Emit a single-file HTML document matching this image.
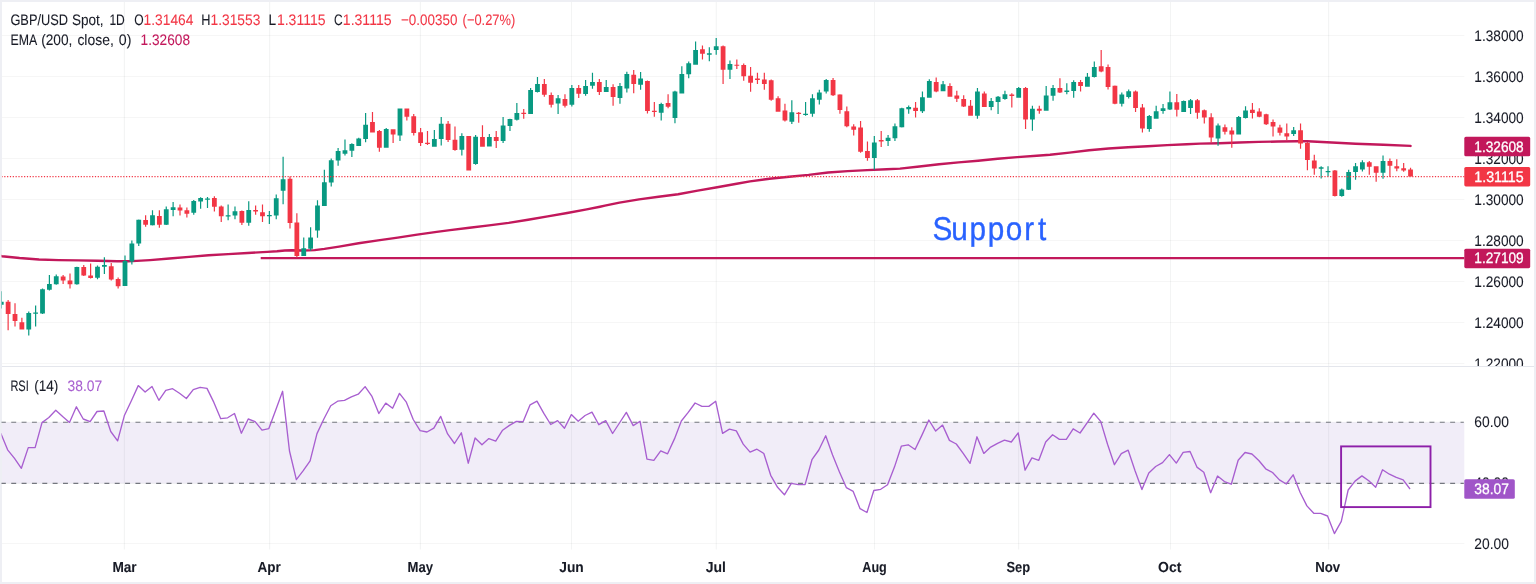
<!DOCTYPE html>
<html lang="en"><head><meta charset="utf-8"><title>GBP/USD Spot, 1D</title>
<style>html,body{margin:0;padding:0;background:#fff;overflow:hidden}svg{display:block}text{text-rendering:geometricPrecision;font-family:"Liberation Sans",sans-serif;font-size:15.2px;fill:#181b26;stroke:#181b26;stroke-width:0.08px}.r{fill:#f23645;stroke:#f23645}.e{fill:#c2185b;stroke:#c2185b}.p{fill:#a85fd0;stroke:#a85fd0}.w{fill:#fff;stroke:#fff;stroke-width:0.3px}.b{font-weight:bold;font-size:14.6px}</style></head><body>
<svg width="1536" height="584" viewBox="0 0 1536 584">
<rect width="1536" height="584" fill="#eeeff4"/>
<rect x="2" y="2" width="1532" height="580" fill="#fff"/>
<defs><clipPath id="cp"><rect x="1.5" y="2" width="1462.3" height="364"/></clipPath><clipPath id="cr"><rect x="1.5" y="367" width="1462.3" height="183"/></clipPath><clipPath id="ca"><rect x="1464.3" y="2" width="80" height="364"/></clipPath></defs>
<path d="M2 35.5 H1464.3 M2 76.5 H1464.3 M2 117.5 H1464.3 M2 158.5 H1464.3 M2 199.5 H1464.3 M2 240.5 H1464.3 M2 281.5 H1464.3 M2 322.5 H1464.3 M2 363.5 H1464.3 M2 422.3 H1464.3 M2 483.4 H1464.3 M2 543.5 H1464.3" stroke="#2a2e39" stroke-opacity="0.042" stroke-width="1.1" fill="none"/>
<path d="M124.4 2 V549.5 M269.6 2 V549.5 M420.4 2 V549.5 M571.5 2 V549.5 M716.3 2 V549.5 M874.5 2 V549.5 M1018.6 2 V549.5 M1170.5 2 V549.5 M1328.6 2 V549.5" stroke="#2a2e39" stroke-opacity="0.055" stroke-width="1.1" fill="none"/>
<rect x="2" y="422.3" width="1462.3" height="61.1" fill="#7e57c2" fill-opacity="0.11"/>
<path d="M0.88 422.3 H1465.3 M0.88 483.4 H1465.3" stroke="#74777f" stroke-width="1.1" stroke-dasharray="4.95 5.402" fill="none" clip-path="url(#cr)"/>
<rect x="2" y="366" width="1532" height="1" fill="#e4e6ec"/>
<path d="M260.7 258.1 H1464.3" stroke="#c2185b" stroke-width="2.1" fill="none"/>
<g clip-path="url(#cp)"><polyline points="0,255.9 2,256.2 19.5,258 39,259.5 58.6,260.1 78.1,260.4 97.7,260.8 117.2,261.3 128,261.3 136.7,260.9 150,260.1 169.5,258.5 189.1,256.9 208.6,255.3 228.1,254.1 247.7,253 267.2,251.9 277,251.3 284.8,250.5 291.6,250.3 303,250.5 314.6,250.1 324.4,248.9 339.1,246.6 358.6,243.3 378.1,240.4 397.7,237.6 417.2,234.6 436.7,231.9 450,230.1 469.5,227.7 489.1,225.4 508.6,222.9 528.1,219.8 547.7,216.4 567.2,213 586.7,209.4 600,206.7 604.9,205.6 619.5,202.6 639.1,199.4 658.6,196.8 678.1,194.3 697.7,190.6 717.2,187.2 736.7,183.8 750,181.4 769.5,178.7 789.1,176.7 808.6,174.9 828.1,172.5 847.7,171.1 867.2,170.1 886.7,169.3 900,168.65 919.5,166.55 939.1,164.2 958.6,162.4 978.1,160.7 997.7,158.7 1017.2,157.1 1036.7,155.8 1050,154.8 1069.5,152.6 1089.1,150.3 1108.6,148.5 1128.1,147.2 1147.7,146.2 1167.2,145.1 1186.7,144.3 1200,143.65 1219.5,143.2 1239.1,142.5 1258.6,141.9 1278.1,141.5 1297.7,141.2 1307.4,141.2 1317.2,141.8 1336.7,142.8 1355.6,143.7 1383.5,144.8 1410.5,145.9" fill="none" stroke="#c2185b" stroke-width="2.45" stroke-linejoin="round" stroke-linecap="round"/>
<path d="M0.66 291.3h1.2v17.3h-1.2zM-1.14 301.7h4.8v3h-4.8zM28.16 311.4h1.2v24.2h-1.2zM26.36 312.9h4.8v16.5h-4.8zM35.03 305.5h1.2v21.1h-1.2zM33.23 312.5h4.8v1.2h-4.8zM41.91 288.6h1.2v25.4h-1.2zM40.11 289.3h4.8v24.2h-4.8zM48.78 275.1h1.2v15.3h-1.2zM46.98 283.9h4.8v5.9h-4.8zM55.65 274.4h1.2v10.3h-1.2zM53.85 276.2h4.8v8h-4.8zM76.28 266.7h1.2v18h-1.2zM74.48 267h4.8v17.2h-4.8zM96.9 265.4h1.2v13.9h-1.2zM95.1 266.7h4.8v11.1h-4.8zM103.78 257.2h1.2v16.7h-1.2zM101.98 265.1h4.8v1.6h-4.8zM124.4 255.4h1.2v30.5h-1.2zM122.6 261.1h4.8v24.8h-4.8zM131.27 240.4h1.2v24.2h-1.2zM129.47 243.5h4.8v18.1h-4.8zM138.15 219.5h1.2v26.5h-1.2zM136.35 219.7h4.8v23.8h-4.8zM151.9 210.3h1.2v15.2h-1.2zM150.1 215.3h4.8v9.9h-4.8zM165.65 206.4h1.2v18.5h-1.2zM163.85 209.2h4.8v15.5h-4.8zM172.52 201.9h1.2v14.4h-1.2zM170.72 207.2h4.8v2.7h-4.8zM193.15 200.1h1.2v14.7h-1.2zM191.34 200.9h4.8v11.8h-4.8zM200.02 197.3h1.2v11.5h-1.2zM198.22 198.1h4.8v3.3h-4.8zM206.89 197h1.2v11h-1.2zM205.09 198.5h4.8v1.2h-4.8zM227.52 204.6h1.2v15.7h-1.2zM225.72 215.2h4.8v1.2h-4.8zM234.39 206.6h1.2v12.7h-1.2zM232.59 211.3h4.8v4.3h-4.8zM248.14 201.2h1.2v24.5h-1.2zM246.34 210.1h4.8v12.7h-4.8zM268.76 211.1h1.2v12.8h-1.2zM266.96 215.1h4.8v1.2h-4.8zM275.64 194.4h1.2v24.9h-1.2zM273.84 198.2h4.8v17.4h-4.8zM282.51 156.7h1.2v47.6h-1.2zM280.71 179.2h4.8v11.5h-4.8zM303.14 237.6h1.2v18.3h-1.2zM301.34 248.2h4.8v7.7h-4.8zM310.01 227.3h1.2v23.4h-1.2zM308.21 237.6h4.8v11.2h-4.8zM316.89 200.2h1.2v37.6h-1.2zM315.09 205.6h4.8v25h-4.8zM323.76 169.8h1.2v36.2h-1.2zM321.96 182.2h4.8v23.8h-4.8zM330.63 158.4h1.2v28h-1.2zM328.84 160.2h4.8v22.4h-4.8zM337.51 147.9h1.2v17.9h-1.2zM335.71 151.1h4.8v9.5h-4.8zM344.38 139.5h1.2v16h-1.2zM342.58 150.3h4.8v3.4h-4.8zM351.26 143.2h1.2v13.9h-1.2zM349.46 144.1h4.8v6.6h-4.8zM358.13 137.7h1.2v8.2h-1.2zM356.33 138.6h4.8v7.3h-4.8zM365.01 113h1.2v29.2h-1.2zM363.21 124.7h4.8v14.3h-4.8zM385.63 128.1h1.2v19.6h-1.2zM383.83 129h4.8v18.7h-4.8zM399.38 108.5h1.2v32.6h-1.2zM397.58 108.5h4.8v27.1h-4.8zM433.75 130.1h1.2v16.7h-1.2zM431.95 139h4.8v7.8h-4.8zM440.63 117.1h1.2v28.5h-1.2zM438.83 123.7h4.8v15.3h-4.8zM461.25 133.2h1.2v22.3h-1.2zM459.45 136h4.8v13.7h-4.8zM475 135.1h1.2v29.7h-1.2zM473.2 136.8h4.8v27.1h-4.8zM488.75 134h1.2v12.6h-1.2zM486.95 136.9h4.8v9.7h-4.8zM502.5 117h1.2v25.9h-1.2zM500.7 125.4h4.8v15.6h-4.8zM509.37 118.8h1.2v12.1h-1.2zM507.57 119h4.8v7h-4.8zM516.25 102.9h1.2v17.5h-1.2zM514.45 112.9h4.8v6.8h-4.8zM530 87.9h1.2v26h-1.2zM528.2 89.9h4.8v24h-4.8zM536.87 77.1h1.2v15.3h-1.2zM535.07 83.9h4.8v8.2h-4.8zM557.49 95.1h1.2v18.8h-1.2zM555.69 98.2h4.8v5.4h-4.8zM571.24 85.1h1.2v21.4h-1.2zM569.44 88h4.8v16.7h-4.8zM584.99 80.1h1.2v15.7h-1.2zM583.19 86h4.8v8h-4.8zM591.87 72.8h1.2v15.9h-1.2zM590.07 82.1h4.8v3.7h-4.8zM605.62 80.1h1.2v12h-1.2zM603.82 86.9h4.8v5.2h-4.8zM619.36 83.1h1.2v20.7h-1.2zM617.56 86h4.8v11.9h-4.8zM626.24 71.8h1.2v20.6h-1.2zM624.44 73.9h4.8v14.7h-4.8zM639.99 72h1.2v17.7h-1.2zM638.19 78.5h4.8v6.3h-4.8zM660.61 102.8h1.2v17.7h-1.2zM658.81 103.9h4.8v8.9h-4.8zM674.36 90.8h1.2v32.5h-1.2zM672.56 91.6h4.8v26.3h-4.8zM681.23 66.3h1.2v27.3h-1.2zM679.43 74h4.8v19.6h-4.8zM688.11 61.5h1.2v16.7h-1.2zM686.31 63.2h4.8v11.1h-4.8zM694.98 41.6h1.2v23.1h-1.2zM693.18 50h4.8v14.7h-4.8zM708.73 47.3h1.2v13.9h-1.2zM706.93 53.2h4.8v1.5h-4.8zM715.61 38.1h1.2v16.6h-1.2zM713.81 46.3h4.8v3.7h-4.8zM729.36 60.4h1.2v18.5h-1.2zM727.56 64h4.8v5.7h-4.8zM791.23 100.2h1.2v23.7h-1.2zM789.43 112.2h4.8v9.6h-4.8zM804.98 102h1.2v13.8h-1.2zM803.18 113.7h4.8v1.2h-4.8zM811.85 94.3h1.2v22.4h-1.2zM810.05 98.2h4.8v15.5h-4.8zM818.72 89.8h1.2v14.7h-1.2zM816.92 92.5h4.8v7.2h-4.8zM825.6 79h1.2v14.4h-1.2zM823.8 79.9h4.8v11.7h-4.8zM873.72 136h1.2v33.8h-1.2zM871.92 142.4h4.8v15.7h-4.8zM887.47 135.1h1.2v10.8h-1.2zM885.67 137.8h4.8v3.2h-4.8zM894.34 123.6h1.2v17.4h-1.2zM892.54 126.3h4.8v12h-4.8zM901.22 107.8h1.2v19.7h-1.2zM899.42 108.3h4.8v18.9h-4.8zM908.09 105.6h1.2v8.1h-1.2zM906.29 106.9h4.8v2.3h-4.8zM921.84 91.6h1.2v21.5h-1.2zM920.04 97.3h4.8v14h-4.8zM928.72 79.2h1.2v18.6h-1.2zM926.92 81.1h4.8v16.7h-4.8zM942.47 81.1h1.2v10.2h-1.2zM940.67 84.3h4.8v7h-4.8zM976.84 87.9h1.2v30.8h-1.2zM975.04 91.6h4.8v24.1h-4.8zM990.59 98.1h1.2v12.1h-1.2zM988.79 101h4.8v6.1h-4.8zM997.46 96.1h1.2v17.9h-1.2zM995.66 96.8h4.8v5.1h-4.8zM1004.34 90.7h1.2v9h-1.2zM1002.54 94.3h4.8v4.7h-4.8zM1018.09 87.1h1.2v10.6h-1.2zM1016.29 87.9h4.8v9.8h-4.8zM1031.83 105.8h1.2v24.9h-1.2zM1030.03 108.7h4.8v10.9h-4.8zM1045.58 85.9h1.2v24.9h-1.2zM1043.78 95.4h4.8v15.4h-4.8zM1052.46 84.9h1.2v15.8h-1.2zM1050.66 88.1h4.8v7.7h-4.8zM1066.21 83.2h1.2v11.1h-1.2zM1064.41 90.4h4.8v1.6h-4.8zM1073.08 80.2h1.2v17.5h-1.2zM1071.28 82.1h4.8v9h-4.8zM1086.83 73h1.2v13.7h-1.2zM1085.03 76.7h4.8v10h-4.8zM1093.7 61.5h1.2v15.9h-1.2zM1091.9 67.1h4.8v9.9h-4.8zM1121.2 92.6h1.2v13.9h-1.2zM1119.4 94.4h4.8v9.4h-4.8zM1128.08 89.6h1.2v9h-1.2zM1126.28 91.2h4.8v5.9h-4.8zM1148.7 115.1h1.2v16.6h-1.2zM1146.9 116h4.8v13h-4.8zM1155.58 105.8h1.2v12.9h-1.2zM1153.77 111.2h4.8v7.5h-4.8zM1162.45 104h1.2v9.7h-1.2zM1160.65 108.3h4.8v2.7h-4.8zM1169.32 91.4h1.2v18.7h-1.2zM1167.52 102.2h4.8v7.2h-4.8zM1183.07 100.4h1.2v11.5h-1.2zM1181.27 101.1h4.8v10.8h-4.8zM1189.95 98.9h1.2v15h-1.2zM1188.15 100.2h4.8v7.7h-4.8zM1217.45 123.6h1.2v22.1h-1.2zM1215.65 125.5h4.8v13h-4.8zM1238.07 116.1h1.2v18.5h-1.2zM1236.27 117h4.8v17.6h-4.8zM1244.94 106.3h1.2v12.2h-1.2zM1243.14 110.4h4.8v7.6h-4.8zM1293.07 127h1.2v8.9h-1.2zM1291.26 130.2h4.8v3.8h-4.8zM1320.56 166.2h1.2v12.4h-1.2zM1318.76 167.3h4.8v1.4h-4.8zM1327.44 166.2h1.2v10.3h-1.2zM1325.64 170.9h4.8v1.4h-4.8zM1341.19 188.4h1.2v8.4h-1.2zM1339.39 189.5h4.8v6.4h-4.8zM1348.06 169.8h1.2v20.3h-1.2zM1346.26 172h4.8v17.7h-4.8zM1354.94 163.1h1.2v16.7h-1.2zM1353.14 166.2h4.8v5.8h-4.8zM1361.81 160.3h1.2v11.2h-1.2zM1360.01 162.3h4.8v7.2h-4.8zM1382.43 155.6h1.2v23.1h-1.2zM1380.63 161.1h4.8v11.7h-4.8z" fill="#089981"/><path d="M7.53 300.1h1.2v30.1h-1.2zM5.73 301.7h4.8v12.3h-4.8zM14.41 303.2h1.2v23.4h-1.2zM12.61 314h4.8v6.9h-4.8zM21.28 317.8h1.2v11.6h-1.2zM19.48 322.2h4.8v7.2h-4.8zM62.53 275h1.2v8.9h-1.2zM60.73 276.5h4.8v3.9h-4.8zM69.4 273.4h1.2v15.2h-1.2zM67.6 280.4h4.8v3.8h-4.8zM83.15 265.1h1.2v10.8h-1.2zM81.35 267h4.8v8.4h-4.8zM90.03 263.4h1.2v15.1h-1.2zM88.23 275.4h4.8v2.7h-4.8zM110.65 263.1h1.2v17.3h-1.2zM108.85 266.2h4.8v13.4h-4.8zM117.53 277.4h1.2v11.2h-1.2zM115.73 279h4.8v7.2h-4.8zM145.02 215.3h1.2v11.5h-1.2zM143.22 220h4.8v4.7h-4.8zM158.77 210.3h1.2v17.5h-1.2zM156.97 216.1h4.8v8.6h-4.8zM179.4 204.6h1.2v10.9h-1.2zM177.6 207.5h4.8v3.1h-4.8zM186.27 207.5h1.2v9.9h-1.2zM184.47 210.3h4.8v3.4h-4.8zM213.77 196.2h1.2v15.4h-1.2zM211.97 198.1h4.8v8.6h-4.8zM220.64 205.4h1.2v16.7h-1.2zM218.84 206.4h4.8v9.9h-4.8zM241.27 210.4h1.2v14.5h-1.2zM239.47 211.1h4.8v11.7h-4.8zM255.02 205.4h1.2v9.4h-1.2zM253.22 210.1h4.8v1.5h-4.8zM261.89 204.5h1.2v17.6h-1.2zM260.09 212.2h4.8v4.1h-4.8zM289.39 176.5h1.2v52.1h-1.2zM287.59 178.8h4.8v44.1h-4.8zM296.26 213.3h1.2v44.1h-1.2zM294.46 222.5h4.8v33.4h-4.8zM371.88 112.1h1.2v20.5h-1.2zM370.08 121.9h4.8v10.7h-4.8zM378.76 130.1h1.2v21.7h-1.2zM376.96 131.1h4.8v16.6h-4.8zM392.51 129.2h1.2v13.7h-1.2zM390.71 129.2h4.8v5.3h-4.8zM406.25 108.5h1.2v12h-1.2zM404.45 108.5h4.8v8.2h-4.8zM413.13 114h1.2v21.6h-1.2zM411.33 116.2h4.8v16.7h-4.8zM420 128.1h1.2v17.8h-1.2zM418.2 132.2h4.8v10.7h-4.8zM426.88 131.1h1.2v13.8h-1.2zM425.08 142.7h4.8v1.4h-4.8zM447.5 121h1.2v21h-1.2zM445.7 123.7h4.8v16.4h-4.8zM454.38 126.6h1.2v24.1h-1.2zM452.58 139.7h4.8v10.3h-4.8zM468.12 136h1.2v34.5h-1.2zM466.33 136h4.8v34.4h-4.8zM481.87 125.3h1.2v21.4h-1.2zM480.07 137h4.8v9.7h-4.8zM495.62 131.1h1.2v16.8h-1.2zM493.82 136.9h4.8v4.2h-4.8zM523.12 109.1h1.2v9.6h-1.2zM521.32 112.7h4.8v1.3h-4.8zM543.74 79.1h1.2v17.7h-1.2zM541.94 83.9h4.8v10.8h-4.8zM550.62 92.4h1.2v15.1h-1.2zM548.82 95.1h4.8v9.6h-4.8zM564.37 94.2h1.2v13.3h-1.2zM562.57 99h4.8v6.7h-4.8zM578.12 85.1h1.2v12.8h-1.2zM576.32 87.9h4.8v5.9h-4.8zM598.74 79.1h1.2v15.8h-1.2zM596.94 82.1h4.8v10h-4.8zM612.49 84.2h1.2v21.5h-1.2zM610.69 86.9h4.8v10h-4.8zM633.11 70.1h1.2v23.2h-1.2zM631.31 74.8h4.8v9.2h-4.8zM646.86 80.5h1.2v33.1h-1.2zM645.06 80.9h4.8v30.1h-4.8zM653.74 102h1.2v14.7h-1.2zM651.94 110.8h4.8v1.2h-4.8zM667.49 94.3h1.2v13.9h-1.2zM665.69 103.1h4.8v3.6h-4.8zM701.86 45.5h1.2v13.9h-1.2zM700.06 49.3h4.8v4.5h-4.8zM722.48 45.5h1.2v38.5h-1.2zM720.68 46.3h4.8v23.4h-4.8zM736.23 59.4h1.2v9.5h-1.2zM734.43 64.65h4.8v1.2h-4.8zM743.11 63.5h1.2v17.3h-1.2zM741.31 65.1h4.8v11.1h-4.8zM749.98 67.1h1.2v24.6h-1.2zM748.18 75.8h4.8v7h-4.8zM756.85 72.8h1.2v11.2h-1.2zM755.05 78.6h4.8v1.4h-4.8zM763.73 72.8h1.2v16.9h-1.2zM761.93 79.4h4.8v4.6h-4.8zM770.6 79.4h1.2v21.4h-1.2zM768.8 80.2h4.8v19.5h-4.8zM777.48 96.3h1.2v15.5h-1.2zM775.68 98.2h4.8v13.6h-4.8zM784.35 103.7h1.2v17.8h-1.2zM782.55 110.5h4.8v10h-4.8zM798.1 111.9h1.2v10.8h-1.2zM796.3 112.8h4.8v1.2h-4.8zM832.47 78.1h1.2v18h-1.2zM830.67 79.9h4.8v15.3h-4.8zM839.35 94.3h1.2v19.4h-1.2zM837.55 94.6h4.8v15.3h-4.8zM846.22 106.5h1.2v20.7h-1.2zM844.42 111.3h4.8v15h-4.8zM853.1 124.3h1.2v11.3h-1.2zM851.3 126.6h4.8v3.1h-4.8zM859.97 120.9h1.2v31.8h-1.2zM858.17 127.5h4.8v24.3h-4.8zM866.85 141.4h1.2v19.4h-1.2zM865.05 150.9h4.8v7.2h-4.8zM880.6 131.1h1.2v15.8h-1.2zM878.8 140.1h4.8v1.3h-4.8zM914.97 102h1.2v15.6h-1.2zM913.17 107.8h4.8v3.2h-4.8zM935.59 77.4h1.2v14.9h-1.2zM933.79 82.1h4.8v9.5h-4.8zM949.34 83.2h1.2v13.5h-1.2zM947.54 85.9h4.8v10.8h-4.8zM956.21 90.7h1.2v11.2h-1.2zM954.41 95.4h4.8v3.4h-4.8zM963.09 95.2h1.2v11.9h-1.2zM961.29 99h4.8v7.5h-4.8zM969.96 100.1h1.2v15.6h-1.2zM968.16 105.8h4.8v9.9h-4.8zM983.71 91.6h1.2v15.5h-1.2zM981.91 93.5h4.8v13.6h-4.8zM1011.21 93.2h1.2v14.2h-1.2zM1009.41 94.5h4.8v1.6h-4.8zM1024.96 87.1h1.2v41.8h-1.2zM1023.16 87.9h4.8v31.7h-4.8zM1038.71 105.8h1.2v8h-1.2zM1036.91 108.7h4.8v2.1h-4.8zM1059.33 78.2h1.2v14.8h-1.2zM1057.53 88.1h4.8v4.3h-4.8zM1079.96 80.1h1.2v11.3h-1.2zM1078.16 82h4.8v3.9h-4.8zM1100.58 50h1.2v22.3h-1.2zM1098.78 66.2h4.8v5.4h-4.8zM1107.45 64.4h1.2v25h-1.2zM1105.65 67.1h4.8v19.8h-4.8zM1114.33 85.4h1.2v18.9h-1.2zM1112.53 85.8h4.8v18h-4.8zM1134.95 90.5h1.2v21.4h-1.2zM1133.15 91.4h4.8v16.5h-4.8zM1141.83 104h1.2v28.6h-1.2zM1140.03 107.6h4.8v21h-4.8zM1176.2 94.1h1.2v22.5h-1.2zM1174.4 102.2h4.8v7.5h-4.8zM1196.82 98.9h1.2v19.8h-1.2zM1195.02 100.2h4.8v12.6h-4.8zM1203.7 109.4h1.2v14.2h-1.2zM1201.9 110.3h4.8v7.2h-4.8zM1210.57 113.3h1.2v29.3h-1.2zM1208.77 117.3h4.8v20.3h-4.8zM1224.32 124.4h1.2v10.1h-1.2zM1222.52 127.3h4.8v4.5h-4.8zM1231.19 127.2h1.2v20.5h-1.2zM1229.39 130.4h4.8v4.1h-4.8zM1251.82 102.9h1.2v15.6h-1.2zM1250.02 109.7h4.8v3.2h-4.8zM1258.69 108.2h1.2v9h-1.2zM1256.89 111.6h4.8v5.1h-4.8zM1265.57 113.8h1.2v11.3h-1.2zM1263.77 114.2h4.8v10h-4.8zM1272.44 119.5h1.2v16.9h-1.2zM1270.64 121.9h4.8v4.7h-4.8zM1279.32 124.8h1.2v10.7h-1.2zM1277.52 127.6h4.8v5.1h-4.8zM1286.19 123.6h1.2v16.6h-1.2zM1284.39 133.2h4.8v3.2h-4.8zM1299.94 123.6h1.2v25.1h-1.2zM1298.14 130.2h4.8v13.3h-4.8zM1306.81 142.1h1.2v28.2h-1.2zM1305.01 142.9h4.8v17h-4.8zM1313.69 154.7h1.2v20.1h-1.2zM1311.89 160.4h4.8v8h-4.8zM1334.31 170h1.2v26.5h-1.2zM1332.51 170.6h4.8v25.3h-4.8zM1368.68 161.1h1.2v13.7h-1.2zM1366.88 162.3h4.8v4.4h-4.8zM1375.56 166.2h1.2v15.5h-1.2zM1373.76 166.2h4.8v6.6h-4.8zM1389.31 158.4h1.2v18.5h-1.2zM1387.51 161.1h4.8v4.6h-4.8zM1396.18 159.3h1.2v12h-1.2zM1394.38 166.3h4.8v2.2h-4.8zM1403.06 163.1h1.2v8.6h-1.2zM1401.26 168.2h4.8v2.4h-4.8zM1409.93 167.7h1.2v8.9h-1.2zM1408.13 169.6h4.8v7h-4.8z" fill="#f23645"/></g>
<path d="M2 176.6 H1464.3" stroke="#f23645" stroke-width="1.1" stroke-dasharray="1.2 1.633" stroke-dashoffset="0.6" fill="none"/>
<text transform="scale(0.9,1)" x="1036.01 1056.9 1077.15 1097.53 1117.43 1138.18 1153.45" y="239.8" style="font-size:33px;fill:#2962ff;stroke:#2962ff;stroke-width:0.35px">Support</text>
<g clip-path="url(#cr)"><polyline points="0.76,433.2 7.63,449.8 14.51,458.4 21.38,468.3 28.26,447.6 35.13,447.6 42.01,422.6 48.88,417.5 55.75,410.3 62.63,416.6 69.5,422.4 76.38,406.8 83.25,419 90.13,421.6 97,411.5 103.88,411 110.75,431.5 117.63,440.9 124.5,415.2 131.37,400.7 138.25,385.6 145.12,392.1 152,386.5 158.87,400.3 165.75,390.4 172.62,388.7 179.5,393.3 186.37,398.5 193.25,389.6 200.12,387.3 206.99,388.4 213.87,402.4 220.74,418.7 227.62,417.8 234.49,413.5 241.37,433.2 248.24,419 255.12,421.6 261.99,430.1 268.86,428.6 275.74,410.1 282.61,391.3 289.49,451 296.36,479.6 303.24,470.7 310.11,460.8 316.99,433.6 323.86,419 330.74,405.7 337.61,401.2 344.48,400.4 351.36,396.9 358.23,394.2 365.11,386.6 371.98,396.4 378.86,413.5 385.73,403.1 392.61,408.2 399.48,393.4 406.35,402.2 413.23,419.5 420.1,430.6 426.98,432 433.85,428.1 440.73,416.4 447.6,433.9 454.48,443.5 461.35,432.8 468.23,463.2 475.1,437.9 481.97,444.7 488.85,438.6 495.72,441.1 502.6,430.2 509.47,425.4 516.35,421.4 523.22,421.6 530.1,404.8 536.97,401.1 543.84,413.4 550.72,424.5 557.59,420.6 564.47,428.3 571.34,414.6 578.22,421.2 585.09,415.5 591.97,412.1 598.84,424.7 605.72,420.6 612.59,433.5 619.46,423 626.34,412.4 633.21,425.6 640.09,421.3 646.96,459.1 653.84,460.3 660.71,450.9 667.59,453.8 674.46,438.9 681.33,421 688.21,412.4 695.08,403 701.96,406.4 708.83,406.4 715.71,401.3 722.58,433.3 729.46,429.2 736.33,430.9 743.21,444.1 750.08,452.1 756.95,449.2 763.83,453.5 770.7,475.3 777.58,487.3 784.45,494.8 791.33,483.4 798.2,484.7 805.08,484.6 811.95,459.7 818.82,450 825.7,435.8 832.57,455.1 839.45,471.9 846.32,487.6 853.2,491.4 860.07,508.7 866.95,512.5 873.82,490.5 880.7,489.3 887.57,484.7 894.44,467.1 901.32,446.2 908.19,444.8 915.07,449.5 921.94,435.1 928.82,420 935.69,431.1 942.57,425.1 949.44,440.4 956.31,444 963.19,453.4 970.06,463.4 976.94,436.8 983.81,453.4 990.69,447.1 997.56,443.3 1004.44,440.2 1011.31,442 1018.19,432.9 1025.06,470.2 1031.93,457.9 1038.81,460.3 1045.68,442 1052.56,434.8 1059.43,439.4 1066.31,439.4 1073.18,428.8 1080.06,433 1086.93,423.1 1093.8,413.2 1100.68,421.4 1107.55,444.2 1114.43,464.7 1121.3,453.6 1128.18,450.2 1135.05,470.7 1141.93,489.6 1148.8,472.9 1155.67,466.5 1162.55,462.6 1169.42,454.6 1176.3,463.1 1183.17,452.3 1190.05,451.5 1196.92,467.1 1203.8,472.2 1210.67,492.7 1217.55,476 1224.42,481.6 1231.29,484.2 1238.17,460.2 1245.04,452.5 1251.92,454 1258.79,460.5 1265.67,468.8 1272.54,472.5 1279.42,479.9 1286.29,484 1293.16,474.8 1300.04,492.2 1306.91,505.9 1313.79,513.3 1320.66,513.4 1327.54,516 1334.41,533.6 1341.29,521.3 1348.16,490 1355.04,481.1 1361.91,475.9 1368.78,480.8 1375.66,487.2 1382.53,469.8 1389.41,474.2 1396.28,477.4 1403.16,479.8 1410.03,489" fill="none" stroke="#a85fd0" stroke-width="1.35" stroke-linejoin="round"/></g>
<rect x="1341.1" y="446.4" width="89.4" height="60.7" fill="none" stroke="#8d1fa9" stroke-width="1.9"/>
<text y="24.65"><tspan x="10.4" textLength="57.6" lengthAdjust="spacingAndGlyphs">GBP/USD</tspan> <tspan x="72" textLength="31.6" lengthAdjust="spacingAndGlyphs">Spot,</tspan> <tspan x="109.4" textLength="15.4" lengthAdjust="spacingAndGlyphs">1D</tspan> <tspan x="134.2" textLength="9.4" lengthAdjust="spacingAndGlyphs">O</tspan><tspan x="143.6" textLength="49.8" lengthAdjust="spacingAndGlyphs" class="r">1.31464</tspan> <tspan x="201.3" textLength="9.2" lengthAdjust="spacingAndGlyphs">H</tspan><tspan x="210.5" textLength="49.8" lengthAdjust="spacingAndGlyphs" class="r">1.31553</tspan> <tspan x="268.6" textLength="7.6" lengthAdjust="spacingAndGlyphs">L</tspan><tspan x="276.9" textLength="48.6" lengthAdjust="spacingAndGlyphs" class="r">1.31115</tspan> <tspan x="334.1" textLength="8.6" lengthAdjust="spacingAndGlyphs">C</tspan><tspan x="342.8" textLength="48.8" lengthAdjust="spacingAndGlyphs" class="r">1.31115</tspan> <tspan x="401" textLength="56.4" lengthAdjust="spacingAndGlyphs" class="r">−0.00350</tspan> <tspan x="462.6" textLength="52.6" lengthAdjust="spacingAndGlyphs" class="r">(−0.27%)</tspan></text>
<text y="44.5"><tspan x="10.6" textLength="26" lengthAdjust="spacingAndGlyphs">EMA</tspan> <tspan x="41.2" textLength="31.2" lengthAdjust="spacingAndGlyphs">(200,</tspan> <tspan x="77.4" textLength="36.4" lengthAdjust="spacingAndGlyphs">close,</tspan> <tspan x="118.8" textLength="12.6" lengthAdjust="spacingAndGlyphs">0)</tspan> <tspan x="140.6" textLength="49.4" lengthAdjust="spacingAndGlyphs" class="e">1.32608</tspan></text>
<text y="391.1"><tspan x="10.4" textLength="18.4" lengthAdjust="spacingAndGlyphs">RSI</tspan> <tspan x="34.2" textLength="24.2" lengthAdjust="spacingAndGlyphs">(14)</tspan> <tspan x="67.6" textLength="34.6" lengthAdjust="spacingAndGlyphs" class="p">38.07</tspan></text>
<g clip-path="url(#ca)">
<text x="1474.3" y="40.5" textLength="49.4" lengthAdjust="spacingAndGlyphs">1.38000</text>
<text x="1474.3" y="81.5" textLength="49.4" lengthAdjust="spacingAndGlyphs">1.36000</text>
<text x="1474.3" y="122.5" textLength="49.4" lengthAdjust="spacingAndGlyphs">1.34000</text>
<text x="1474.3" y="163.5" textLength="49.4" lengthAdjust="spacingAndGlyphs">1.32000</text>
<text x="1474.3" y="204.5" textLength="49.4" lengthAdjust="spacingAndGlyphs">1.30000</text>
<text x="1474.3" y="245.5" textLength="49.4" lengthAdjust="spacingAndGlyphs">1.28000</text>
<text x="1474.3" y="286.5" textLength="49.4" lengthAdjust="spacingAndGlyphs">1.26000</text>
<text x="1474.3" y="327.5" textLength="49.4" lengthAdjust="spacingAndGlyphs">1.24000</text>
<text x="1474.3" y="368.5" textLength="49.4" lengthAdjust="spacingAndGlyphs">1.22000</text>
</g>
<text x="1474.3" y="427.3" textLength="34.6" lengthAdjust="spacingAndGlyphs">60.00</text>
<text x="1474.3" y="488.4" textLength="34.6" lengthAdjust="spacingAndGlyphs">40.00</text>
<text x="1474.3" y="548.5" textLength="34.6" lengthAdjust="spacingAndGlyphs">20.00</text>
<rect x="1464.3" y="136.85" width="65.9" height="19.5" rx="1.6" fill="#c2185b"/>
<text x="1474.3" y="151.6" textLength="49.4" lengthAdjust="spacingAndGlyphs" class="w">1.32608</text>
<rect x="1464.3" y="166.9" width="65.9" height="19.5" rx="1.6" fill="#f23645"/>
<text x="1474.3" y="181.65" textLength="49.4" lengthAdjust="spacingAndGlyphs" class="w">1.31115</text>
<rect x="1464.3" y="248.65" width="65.9" height="19.5" rx="1.6" fill="#c2185b"/>
<text x="1474.3" y="263.4" textLength="49.4" lengthAdjust="spacingAndGlyphs" class="w">1.27109</text>
<rect x="1464.3" y="479.25" width="50.5" height="19.5" rx="1.6" fill="#a055c8"/>
<text x="1474.3" y="494" textLength="34.6" lengthAdjust="spacingAndGlyphs" class="w">38.07</text>
<text x="112.4" y="571.5" class="b" textLength="24.3" lengthAdjust="spacingAndGlyphs">Mar</text>
<text x="257.4" y="571.5" class="b" textLength="23.3" lengthAdjust="spacingAndGlyphs">Apr</text>
<text x="407.5" y="571.5" class="b" textLength="25.5" lengthAdjust="spacingAndGlyphs">May</text>
<text x="559.3" y="571.5" class="b" textLength="24.5" lengthAdjust="spacingAndGlyphs">Jun</text>
<text x="705.7" y="571.5" class="b" textLength="20.2" lengthAdjust="spacingAndGlyphs">Jul</text>
<text x="862.3" y="571.5" class="b" textLength="24.5" lengthAdjust="spacingAndGlyphs">Aug</text>
<text x="1006.4" y="571.5" class="b" textLength="23.8" lengthAdjust="spacingAndGlyphs">Sep</text>
<text x="1158.1" y="571.5" class="b" textLength="23.3" lengthAdjust="spacingAndGlyphs">Oct</text>
<text x="1315.2" y="571.5" class="b" textLength="25" lengthAdjust="spacingAndGlyphs">Nov</text>
</svg></body></html>
